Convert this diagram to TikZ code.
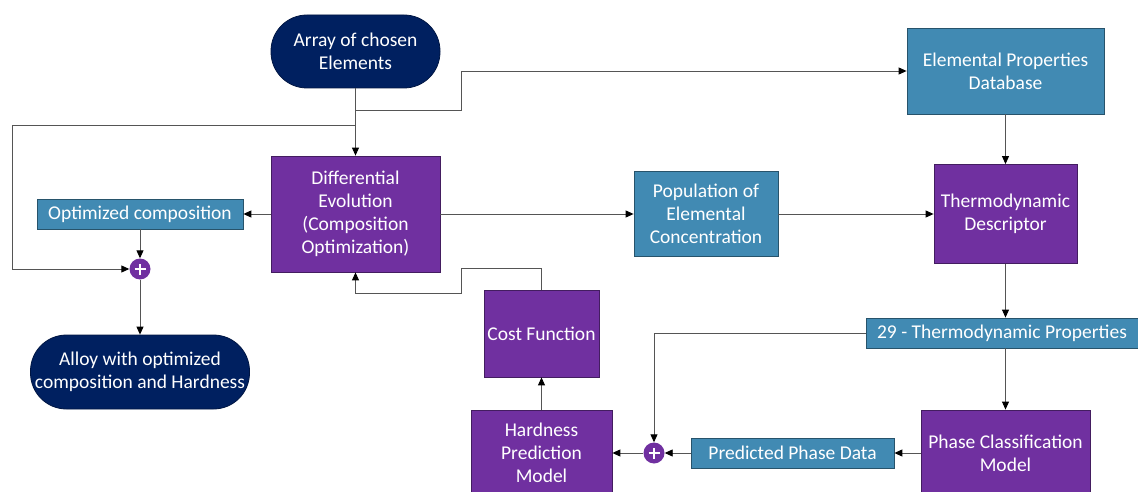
\documentclass[tikz,border=0pt]{standalone}
\usepackage{fontspec}
\setmainfont{Carlito}
\usetikzlibrary{arrows.meta}
\definecolor{navy}{HTML}{002060}
\definecolor{purp}{HTML}{7030A0}
\definecolor{blu}{HTML}{418AB3}
\definecolor{linec}{HTML}{555555}
\begin{document}
\begin{tikzpicture}[x=1pt,y=-1pt,
  base/.style={text=white, font=\fontsize{19.5}{23}\selectfont, align=center, inner sep=0pt, line width=0.8pt},
  term/.style={base, fill=navy, draw=navy!70!black, rounded corners=36pt},
  pbox/.style={base, fill=purp, draw=purp!60!black},
  bbox/.style={base, fill=blu, draw=blu!60!black},
  sumnode/.style={circle, fill=purp, minimum size=21pt, inner sep=0pt,
    path picture={
      \draw[white, line width=2.6pt] ([xshift=-5.5pt]path picture bounding box.center) -- ([xshift=5.5pt]path picture bounding box.center);
      \draw[white, line width=2.6pt] ([yshift=-5.5pt]path picture bounding box.center) -- ([yshift=5.5pt]path picture bounding box.center);
    }},
  conn/.style={draw=linec, line width=0.9pt, -{Triangle[length=8pt,width=7pt,color=black]}},
]
\clip (0,0) rectangle (1138,492);
\fill[white] (0,0) rectangle (1138,492);

% nodes
\node[term, minimum width=169pt, minimum height=73pt] (arr) at (355.5,51.5) {Array of chosen\\Elements};
\node[pbox, minimum width=169pt, minimum height=116pt] (de) at (355.5,214) {Differential\\Evolution\\(Composition\\Optimization)};
\node[bbox, minimum width=206pt, minimum height=30pt] (oc) at (140,214) {Optimized composition};
\node[sumnode] (p1) at (140,269) {};
\node[term, minimum width=219pt, minimum height=74pt] (alloy) at (140,372) {Alloy with optimized\\composition and Hardness};
\node[bbox, minimum width=197pt, minimum height=86pt] (epd) at (1005.5,71) {Elemental Properties\\Database};
\node[bbox, minimum width=144pt, minimum height=85pt] (pop) at (706,214) {Population of\\Elemental\\Concentration};
\node[pbox, minimum width=143pt, minimum height=99pt] (td) at (1005.5,214) {Thermodynamic\\Descriptor};
\node[bbox, minimum width=272pt, minimum height=30pt] (tp) at (1002,333) {29 - Thermodynamic Properties};
\node[pbox, minimum width=169pt, minimum height=86pt] (pcm) at (1005.5,453) {Phase Classification\\Model};
\node[bbox, minimum width=203pt, minimum height=30pt] (ppd) at (792.5,453) {Predicted Phase Data};
\node[sumnode] (p2) at (654,453) {};
\node[pbox, minimum width=141pt, minimum height=86pt] (hpm) at (541.5,453) {Hardness\\Prediction\\Model};
\node[pbox, minimum width=115pt, minimum height=87pt] (cf) at (541.5,333.5) {Cost Function};

% junction coordinates
\coordinate (j1) at (355.5,110);
\coordinate (k1) at (461,110);
\coordinate (j2) at (355.5,125);
\coordinate (k2) at (12,125);
\coordinate (f1) at (541.5,268);
\coordinate (f2) at (461,268);
\coordinate (f3) at (461,293);
\coordinate (f4) at (355.5,293);

% connectors
\draw[conn] (arr) -- (de);
\draw[conn] (j1) -- (k1) |- (epd.west);
\draw[conn] (j2) -- (k2) |- (p1.west);
\draw[conn] (de) -- (oc);
\draw[conn] (oc) -- (p1);
\draw[conn] (p1) -- (alloy);
\draw[conn] (de) -- (pop);
\draw[conn] (pop) -- (td);
\draw[conn] (epd) -- (td);
\draw[conn] (td.south) -- (td.south |- tp.north);
\draw[conn] (tp.south -| pcm.north) -- (pcm.north);
\draw[conn] (tp.west) -| (p2.north);
\draw[conn] (pcm) -- (ppd);
\draw[conn] (ppd) -- (p2);
\draw[conn] (p2) -- (hpm);
\draw[conn] (hpm) -- (cf);
\draw[conn] (cf.north) -- (f1) -- (f2) -- (f3) -- (f4) -- (de.south);
\end{tikzpicture}
\end{document}
